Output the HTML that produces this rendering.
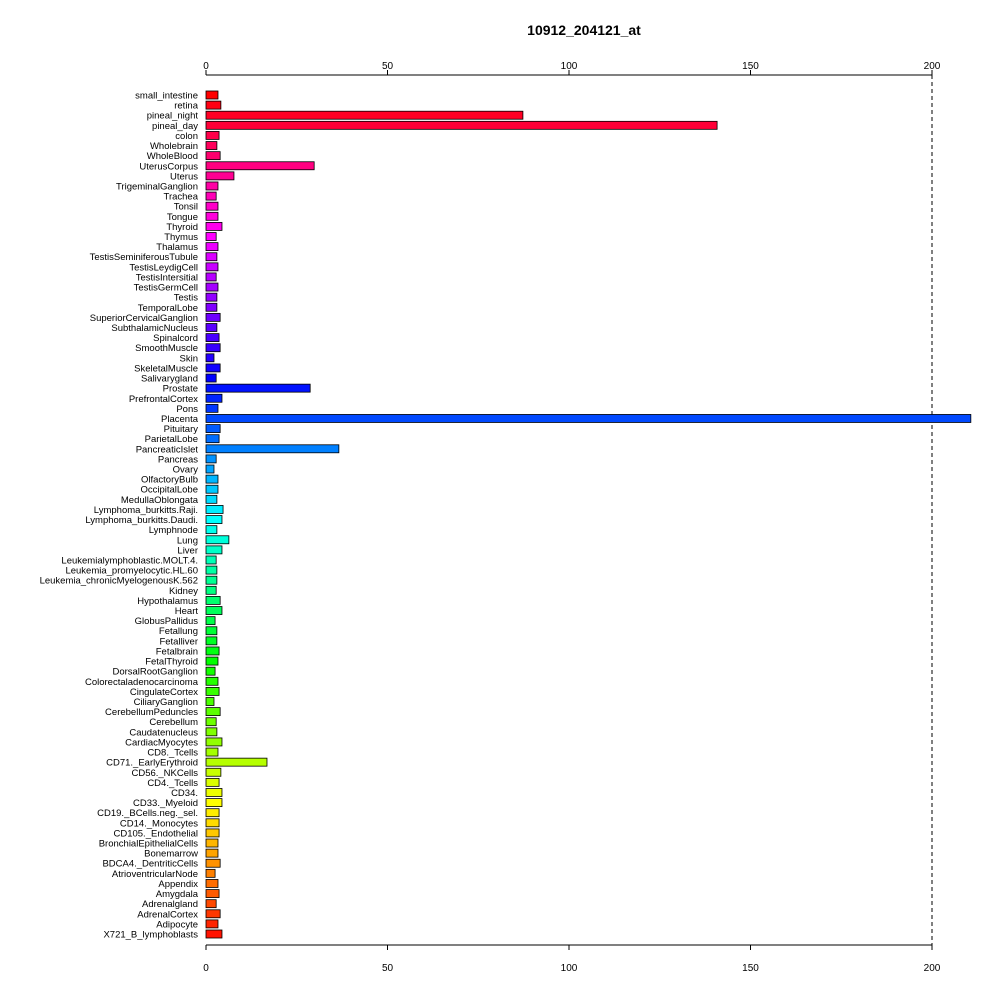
<!DOCTYPE html>
<html><head><meta charset="utf-8"><style>
body{margin:0;background:#fff;font-family:"Liberation Sans",sans-serif}
svg text{font-family:"Liberation Sans",sans-serif}
</style></head><body>
<svg id="chart" width="1000" height="1000" viewBox="0 0 1000 1000" xmlns="http://www.w3.org/2000/svg">
<rect width="1000" height="1000" fill="#fff"/>
<text x="584" y="35" text-anchor="middle" font-size="14" font-weight="bold">10912_204121_at</text>
<g id="axes"></g><g id="bars"></g><g id="labels"></g>
</svg>
<script>
const categories=["small_intestine","retina","pineal_night","pineal_day","colon","Wholebrain","WholeBlood","UterusCorpus","Uterus","TrigeminalGanglion","Trachea","Tonsil","Tongue","Thyroid","Thymus","Thalamus","TestisSeminiferousTubule","TestisLeydigCell","TestisIntersitial","TestisGermCell","Testis","TemporalLobe","SuperiorCervicalGanglion","SubthalamicNucleus","Spinalcord","SmoothMuscle","Skin","SkeletalMuscle","Salivarygland","Prostate","PrefrontalCortex","Pons","Placenta","Pituitary","ParietalLobe","PancreaticIslet","Pancreas","Ovary","OlfactoryBulb","OccipitalLobe","MedullaOblongata","Lymphoma_burkitts.Raji.","Lymphoma_burkitts.Daudi.","Lymphnode","Lung","Liver","Leukemialymphoblastic.MOLT.4.","Leukemia_promyelocytic.HL.60","Leukemia_chronicMyelogenousK.562","Kidney","Hypothalamus","Heart","GlobusPallidus","Fetallung","Fetalliver","Fetalbrain","FetalThyroid","DorsalRootGanglion","Colorectaladenocarcinoma","CingulateCortex","CiliaryGanglion","CerebellumPeduncles","Cerebellum","Caudatenucleus","CardiacMyocytes","CD8._Tcells","CD71._EarlyErythroid","CD56._NKCells","CD4._Tcells","CD34.","CD33._Myeloid","CD19._BCells.neg._sel.","CD14._Monocytes","CD105._Endothelial","BronchialEpithelialCells","Bonemarrow","BDCA4._DentriticCells","AtrioventricularNode","Appendix","Amygdala","Adrenalgland","AdrenalCortex","Adipocyte","X721_B_lymphoblasts"];
const values=[3.3,4.1,87.3,140.8,3.6,3.0,3.9,29.8,7.7,3.3,2.8,3.3,3.3,4.4,2.8,3.3,3.0,3.3,2.8,3.3,3.0,3.0,3.9,3.0,3.6,3.9,2.2,3.9,2.8,28.7,4.4,3.3,210.7,3.9,3.6,36.6,2.8,2.2,3.3,3.3,3.0,4.7,4.4,3.0,6.3,4.4,2.8,3.0,3.0,2.8,3.9,4.4,2.5,3.0,3.0,3.6,3.3,2.5,3.3,3.6,2.2,3.9,2.8,3.0,4.4,3.3,16.8,4.1,3.6,4.4,4.4,3.6,3.6,3.6,3.3,3.3,3.9,2.5,3.3,3.6,2.8,3.9,3.3,4.4];
const ticks=[0,50,100,150,200];
const NS="http://www.w3.org/2000/svg";
const x=v=>206+v*3.63;
const y=i=>95+i*(839/83);
function mk(t,a,p){const e=document.createElementNS(NS,t);for(const k in a)e.setAttribute(k,a[k]);document.getElementById(p).appendChild(e);return e;}
// axes
let l=mk("line",{x1:x(0),x2:x(200),y1:75,y2:75,stroke:"#000"},"axes");


l=mk("line",{x1:x(0),x2:x(200),y1:945,y2:945,stroke:"#000"},"axes");


l=mk("line",{x1:x(200),x2:x(200),y1:75,y2:945,stroke:"#000","stroke-dasharray":"4,3"},"axes");


ticks.forEach(t=>{
  let a=mk("line",{x1:x(t),x2:x(t),y1:70,y2:75,stroke:"#000"},"axes");
  
  
  a=mk("line",{x1:x(t),x2:x(t),y1:945,y2:950,stroke:"#000"},"axes");
  
  
  let s=mk("text",{x:x(t),y:69,"text-anchor":"middle","font-size":10},"axes");s.textContent=t;
  
  
  s=mk("text",{x:x(t),y:971,"text-anchor":"middle","font-size":10},"axes");s.textContent=t;
  
  
});
const n=categories.length;
categories.forEach((c,i)=>{
  const h=(360-i*360/n)%360;
  const r=mk("rect",{x:x(0),y:y(i)-4,width:x(values[i])-x(0),height:8,fill:`hsl(${h},100%,50%)`,stroke:"#000","stroke-width":0.8},"bars");
  
  
  const t=mk("text",{x:198,y:y(i)+3.5,"text-anchor":"end","font-size":9.5},"labels");t.textContent=c;
  
  
});
</script>
</body></html>
